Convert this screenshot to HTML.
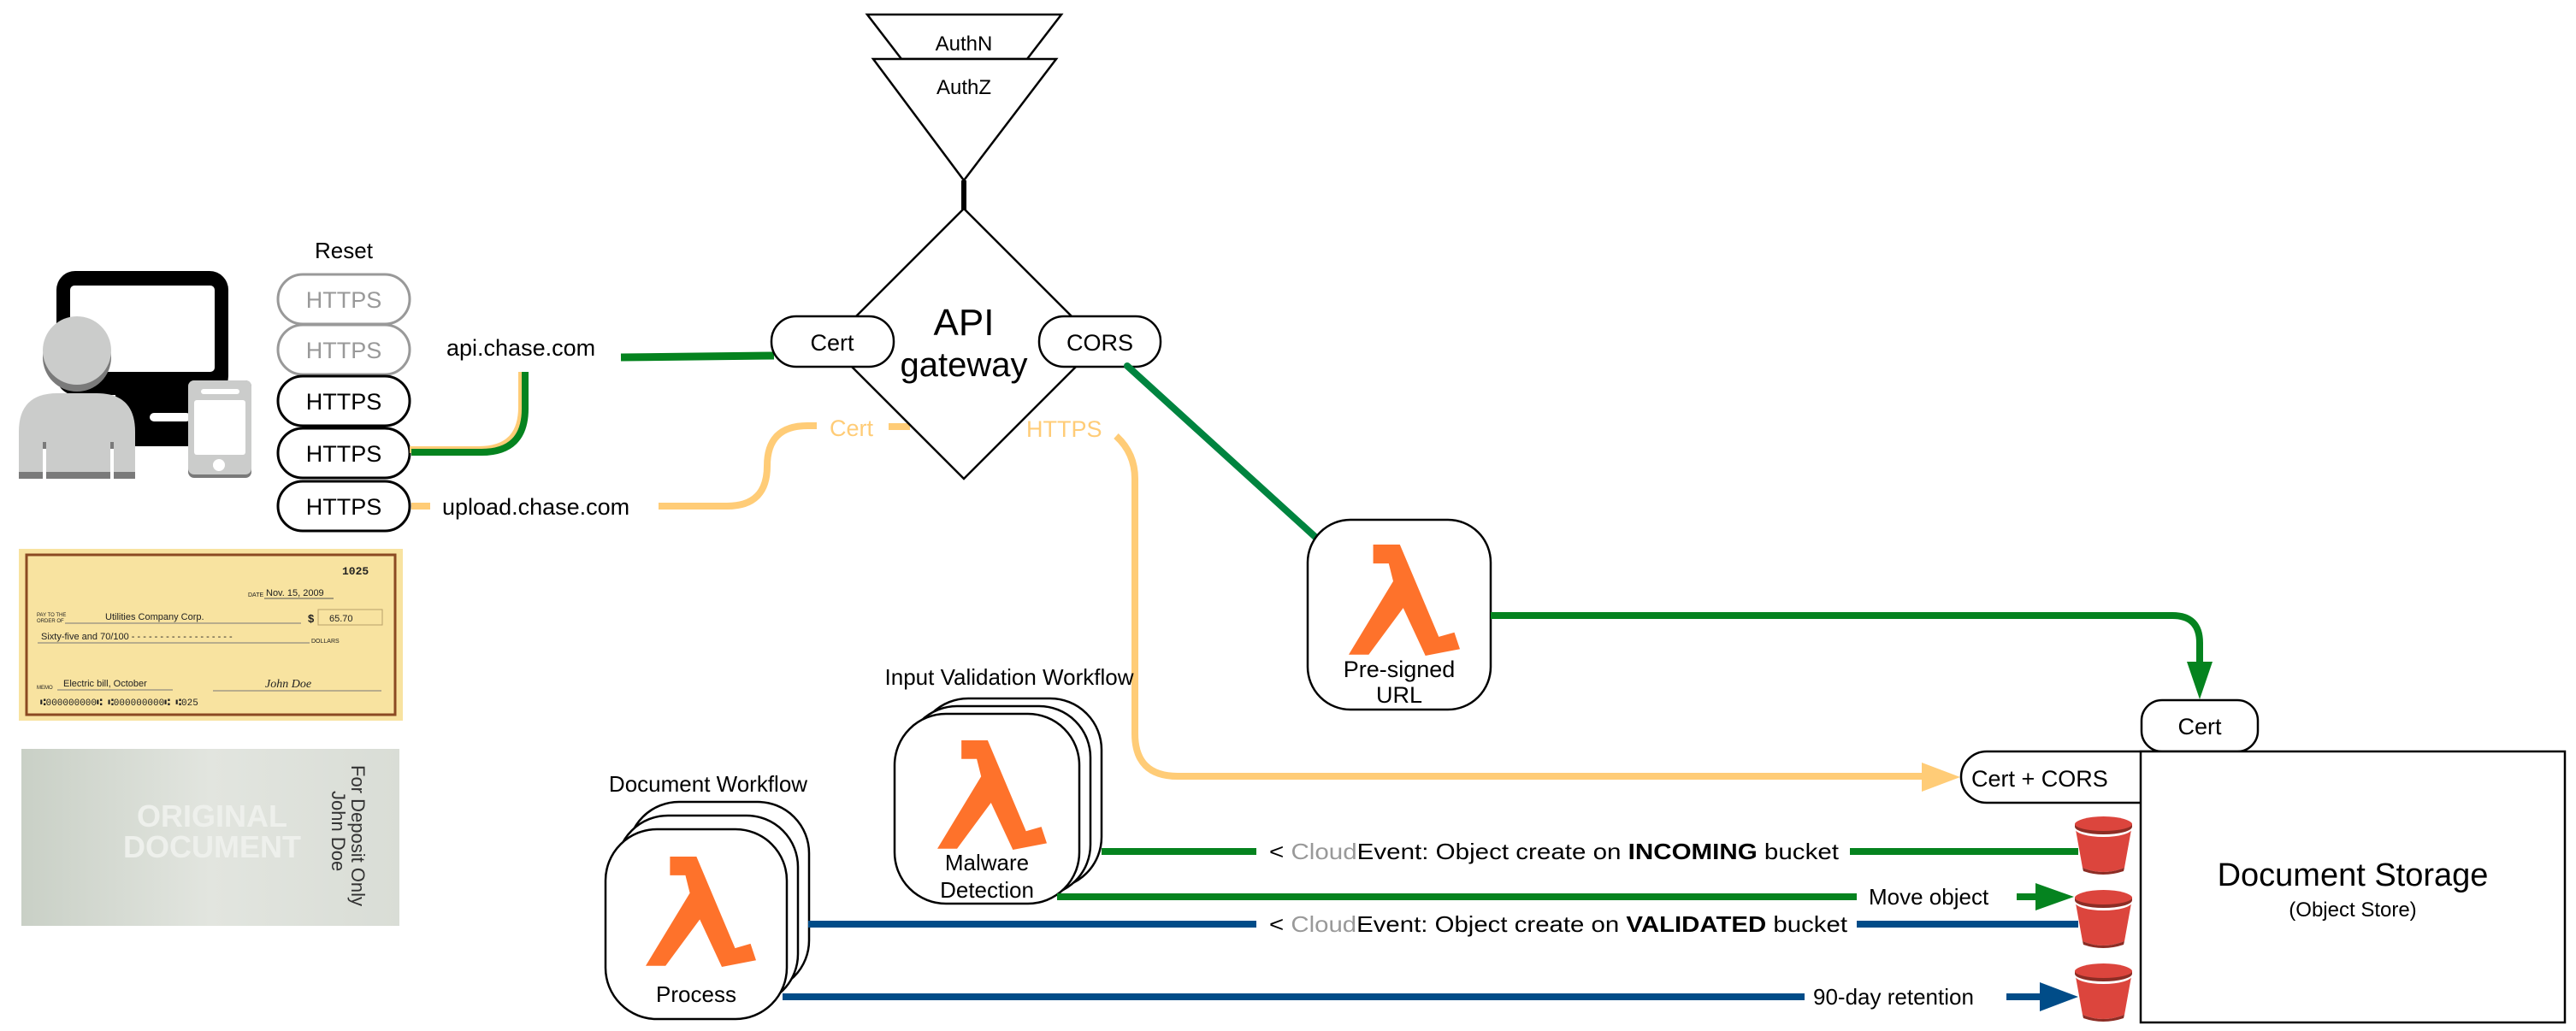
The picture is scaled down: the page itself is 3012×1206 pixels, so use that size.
<!DOCTYPE html>
<html><head><meta charset="utf-8"><style>
html,body{margin:0;padding:0;background:#fff;}
svg{display:block;font-family:"Liberation Sans",sans-serif;}
</style></head><body>
<svg width="3012" height="1206" viewBox="0 0 3012 1206" xmlns="http://www.w3.org/2000/svg">
<defs>
<symbol id="lam" viewBox="0 0 100 100"><polygon fill="#fe722b" points="22,0 46,0 81,83 95,79 100,94 69,100 49,57 18,99 0,99 40,33 36,17 22,17"/></symbol>
<g id="bucket">
<path d="M0,10 L67,10 L58,60 Q33,70 9,60 Z" fill="#dc453d"/>
<path d="M9,60 Q33,70 58,60 L57,64 Q33,72 10,64 Z" fill="#8c2d25"/>
<ellipse cx="33.5" cy="10" rx="33.5" ry="10" fill="#dc453d"/>
<path d="M0,10 A33.5,10 0 0 0 67,10 L67,14 A33.5,10 0 0 1 0,14 Z" fill="#fff"/>
<ellipse cx="33.5" cy="9" rx="33.5" ry="8" fill="#dc453d"/>
<path d="M0,9 A33.5,8 0 0 0 67,9 L67,12 A33.5,9 0 0 1 0,12 Z" fill="#8c2d25"/>
</g>
</defs>

<!-- person/computer -->
<rect x="66" y="317" width="201" height="145" rx="22" fill="#000"/>
<rect x="82" y="334" width="169" height="101" rx="5" fill="#fff"/>
<rect x="135" y="455" width="90" height="67" fill="#000"/>
<rect x="175" y="483" width="48" height="10" rx="5" fill="#fff"/>
<circle cx="90" cy="418" r="40" fill="#7a7a7a"/>
<circle cx="90" cy="410" r="40" fill="#cbcccb"/>
<path d="M22,560 V505 Q22,460 67,460 H113 Q158,460 158,505 V560 Z" fill="#cbcccb"/>
<rect x="22" y="552" width="136" height="8" fill="#7a7a7a"/>
<rect x="50" y="517" width="4" height="43" fill="#fff"/><rect x="50" y="517" width="4" height="8" fill="#7a7a7a"/>
<rect x="129" y="517" width="4" height="43" fill="#fff"/><rect x="129" y="517" width="4" height="8" fill="#7a7a7a"/>
<rect x="220" y="445" width="74" height="114" rx="7" fill="#7a7a7a"/>
<rect x="220" y="445" width="74" height="110" rx="7" fill="#cbcccb"/>
<rect x="227" y="468" width="60" height="64" rx="3" fill="#fff"/>
<rect x="235" y="455" width="45" height="6" rx="3" fill="#fff"/>
<circle cx="256" cy="544" r="7" fill="#fff"/>

<!-- checks -->
<rect x="22" y="642" width="449" height="201" fill="#f8e3a0"/>
<rect x="31" y="649" width="431" height="187" fill="none" stroke="#8b4a22" stroke-width="3"/>
<g font-size="12" fill="#222">
<text x="400" y="672" font-family="Liberation Mono" font-size="13" font-weight="bold">1025</text>
<text x="290" y="698" font-size="7">DATE</text><text x="311" y="697" font-size="11">Nov. 15, 2009</text>
<line x1="309" y1="700" x2="390" y2="700" stroke="#555"/>
<text x="43" y="721" font-size="6">PAY TO THE</text><text x="43" y="728" font-size="6">ORDER OF</text>
<text x="123" y="725" font-size="11">Utilities Company Corp.</text>
<line x1="76" y1="729" x2="352" y2="729" stroke="#777"/>
<text x="360" y="728" font-size="13" font-weight="bold">$</text>
<rect x="372" y="713" width="75" height="18" fill="none" stroke="#b9a06a"/>
<text x="385" y="727" font-size="11">65.70</text>
<text x="48" y="748" font-size="11">Sixty-five and 70/100  - - - - - - - - - - - - - - - - - -</text>
<line x1="44" y1="752" x2="362" y2="752" stroke="#777"/>
<text x="364" y="752" font-size="7">DOLLARS</text>
<text x="74" y="803" font-size="11">Electric bill, October</text>
<text x="43" y="806" font-size="6">MEMO</text>
<line x1="67" y1="807" x2="202" y2="807" stroke="#777"/>
<line x1="249" y1="808" x2="446" y2="808" stroke="#777"/>
<text x="310" y="804" font-family="Liberation Serif" font-style="italic" font-size="14">John Doe</text>
<text x="47" y="825" font-family="Liberation Mono" font-size="11">⑆000000000⑆ ⑆000000000⑆   ⑆025</text>
</g>
<defs><linearGradient id="bg2" x1="0" x2="1"><stop offset="0" stop-color="#c9d0c6"/><stop offset="0.5" stop-color="#e2e5df"/><stop offset="1" stop-color="#d9ddd6"/></linearGradient></defs>
<rect x="25" y="876" width="442" height="207" fill="url(#bg2)"/>
<text x="248" y="967" font-size="36" font-weight="bold" fill="#eef0ec" text-anchor="middle">ORIGINAL</text>
<text x="248" y="1003" font-size="36" font-weight="bold" fill="#eef0ec" text-anchor="middle">DOCUMENT</text>
<text transform="translate(411,895) rotate(90)" font-size="22" fill="#333">For Deposit Only</text>
<text transform="translate(388,925) rotate(90)" font-size="22" fill="#333">John Doe</text>

<!-- HTTPS pills -->
<text x="402" y="302" font-size="26" text-anchor="middle">Reset</text>
<g font-size="27" text-anchor="middle">
<rect x="325" y="321" width="154" height="58" rx="29" fill="#fff" stroke="#999" stroke-width="3"/><text x="402" y="360" fill="#999">HTTPS</text>
<rect x="325" y="380" width="154" height="58" rx="29" fill="#fff" stroke="#999" stroke-width="3"/><text x="402" y="419" fill="#999">HTTPS</text>
<rect x="325" y="440" width="154" height="58" rx="29" fill="#fff" stroke="#000" stroke-width="3"/><text x="402" y="479">HTTPS</text>
<rect x="325" y="501" width="154" height="58" rx="29" fill="#fff" stroke="#000" stroke-width="3"/><text x="402" y="540">HTTPS</text>
<rect x="325" y="563" width="154" height="58" rx="29" fill="#fff" stroke="#000" stroke-width="3"/><text x="402" y="602">HTTPS</text>
</g>
<text x="522" y="416" font-size="27">api.chase.com</text>
<text x="517" y="602" font-size="27">upload.chase.com</text>

<!-- connectors left -->
<path d="M479,526 H560 Q610,526 610,476 V435" fill="none" stroke="#ffcc77" stroke-width="8"/>
<path d="M481,529 H563 Q614,529 614,478 V435" fill="none" stroke="#05831f" stroke-width="8"/>
<line x1="726" y1="418" x2="905" y2="416" stroke="#05831f" stroke-width="9"/>
<path d="M481,592 H503 M770,592 H850 Q897,592 897,545 Q897,498 944,498 H955" fill="none" stroke="#ffcc77" stroke-width="8"/>
<path d="M1039,499 H1064" stroke="#ffcc77" stroke-width="8"/>
<text x="970" y="510" font-size="27" fill="#ffcc77">Cert</text>
<text x="1200" y="511" font-size="27" fill="#ffcc77">HTTPS</text>
<path d="M1305,510 Q1327,530 1327,560 V858 Q1327,908 1377,908 H2250" fill="none" stroke="#ffcc77" stroke-width="8"/>
<polygon points="2247,892 2292,909 2247,926" fill="#ffcc77"/>

<!-- Auth triangles -->
<polygon points="1014,17 1241,17 1201,69 1054,69" fill="#fff" stroke="#000" stroke-width="2.5"/>
<text x="1127" y="59" font-size="24" text-anchor="middle">AuthN</text>
<polygon points="1021,69 1235,69 1127,211" fill="#fff" stroke="#000" stroke-width="2.5"/>
<text x="1127" y="110" font-size="24" text-anchor="middle">AuthZ</text>
<line x1="1127" y1="211" x2="1127" y2="245" stroke="#000" stroke-width="6"/>

<!-- API gateway -->
<polygon points="1127,244 1285,402 1127,560 969,402" fill="#fff" stroke="#000" stroke-width="2.5"/>
<text x="1127" y="392" font-size="44" text-anchor="middle">API</text>
<text x="1127" y="440" font-size="40" text-anchor="middle">gateway</text>
<rect x="902" y="370" width="143" height="59" rx="29" fill="#fff" stroke="#000" stroke-width="2.5"/>
<text x="973" y="410" font-size="27" text-anchor="middle">Cert</text>
<rect x="1215" y="370" width="142" height="59" rx="29" fill="#fff" stroke="#000" stroke-width="2.5"/>
<text x="1286" y="410" font-size="27" text-anchor="middle">CORS</text>
<line x1="1318" y1="428" x2="1540" y2="630" stroke="#00843f" stroke-width="8" stroke-linecap="round"/>

<!-- pre-signed -->
<rect x="1529" y="608" width="214" height="222" rx="50" fill="#fff" stroke="#000" stroke-width="2.5"/>
<svg x="1577" y="637" width="130" height="130"><use href="#lam"/></svg>
<text x="1636" y="792" font-size="27" text-anchor="middle">Pre-signed</text>
<text x="1636" y="822" font-size="27" text-anchor="middle">URL</text>
<path d="M1743,720 H2540 Q2572,720 2572,752 V780" fill="none" stroke="#05831f" stroke-width="8"/>
<polygon points="2557,774 2587,774 2572,818" fill="#05831f"/>

<!-- storage -->
<rect x="2504" y="819" width="136" height="60" rx="24" fill="#fff" stroke="#000" stroke-width="2.5"/>
<text x="2572" y="859" font-size="27" text-anchor="middle">Cert</text>
<rect x="2293" y="879" width="260" height="60" rx="30" fill="#fff" stroke="#000" stroke-width="2.5"/>
<text x="2305" y="920" font-size="27">Cert + CORS</text>
<rect x="2503" y="879" width="496" height="317" fill="#fff" stroke="#000" stroke-width="2.5"/>
<text x="2751" y="1036" font-size="38" text-anchor="middle">Document Storage</text>
<text x="2751" y="1072" font-size="24" text-anchor="middle">(Object Store)</text>

<!-- workflows -->
<text x="1180" y="801" font-size="26" text-anchor="middle">Input Validation Workflow</text>
<rect x="1072" y="817" width="216" height="222" rx="60" fill="#fff" stroke="#000" stroke-width="2.5"/>
<rect x="1059" y="826" width="216" height="222" rx="60" fill="#fff" stroke="#000" stroke-width="2.5"/>
<rect x="1046" y="835" width="216" height="222" rx="60" fill="#fff" stroke="#000" stroke-width="2.5"/>
<svg x="1096" y="862" width="128" height="136"><use href="#lam"/></svg>
<text x="1154" y="1018" font-size="26" text-anchor="middle">Malware</text>
<text x="1154" y="1050" font-size="26" text-anchor="middle">Detection</text>

<text x="828" y="926" font-size="26" text-anchor="middle">Document Workflow</text>
<rect x="734" y="938" width="212" height="222" rx="60" fill="#fff" stroke="#000" stroke-width="2.5"/>
<rect x="721" y="954" width="212" height="222" rx="60" fill="#fff" stroke="#000" stroke-width="2.5"/>
<rect x="708" y="970" width="212" height="222" rx="60" fill="#fff" stroke="#000" stroke-width="2.5"/>
<svg x="755" y="999" width="129" height="135"><use href="#lam"/></svg>
<text x="814" y="1172" font-size="26" text-anchor="middle">Process</text>

<!-- event lines -->
<line x1="1288" y1="996" x2="1469" y2="996" stroke="#05831f" stroke-width="8"/>
<line x1="2163" y1="996" x2="2430" y2="996" stroke="#05831f" stroke-width="8"/>
<text x="1484" y="1005" font-size="26" textLength="666" lengthAdjust="spacingAndGlyphs">&lt; <tspan fill="#999">Cloud</tspan>Event: Object create on <tspan font-weight="bold">INCOMING</tspan> bucket</text>
<line x1="1236" y1="1049" x2="2171" y2="1049" stroke="#05831f" stroke-width="8"/>
<text x="2185" y="1058" font-size="26">Move object</text>
<line x1="2358" y1="1049" x2="2385" y2="1049" stroke="#05831f" stroke-width="8"/>
<polygon points="2380,1033 2425,1049 2380,1065" fill="#05831f"/>
<line x1="945" y1="1081" x2="1469" y2="1081" stroke="#004c88" stroke-width="8"/>
<line x1="2171" y1="1081" x2="2430" y2="1081" stroke="#004c88" stroke-width="8"/>
<text x="1484" y="1090" font-size="26" textLength="676" lengthAdjust="spacingAndGlyphs">&lt; <tspan fill="#999">Cloud</tspan>Event: Object create on <tspan font-weight="bold">VALIDATED</tspan> bucket</text>
<line x1="915" y1="1166" x2="2110" y2="1166" stroke="#004c88" stroke-width="8"/>
<text x="2120" y="1175" font-size="26">90-day retention</text>
<line x1="2346" y1="1166" x2="2390" y2="1166" stroke="#004c88" stroke-width="8"/>
<polygon points="2385,1149 2430,1166 2385,1183" fill="#004c88"/>

<use href="#bucket" x="2426" y="955"/>
<use href="#bucket" x="2426" y="1041"/>
<use href="#bucket" x="2426" y="1127"/>
</svg>
</body></html>
